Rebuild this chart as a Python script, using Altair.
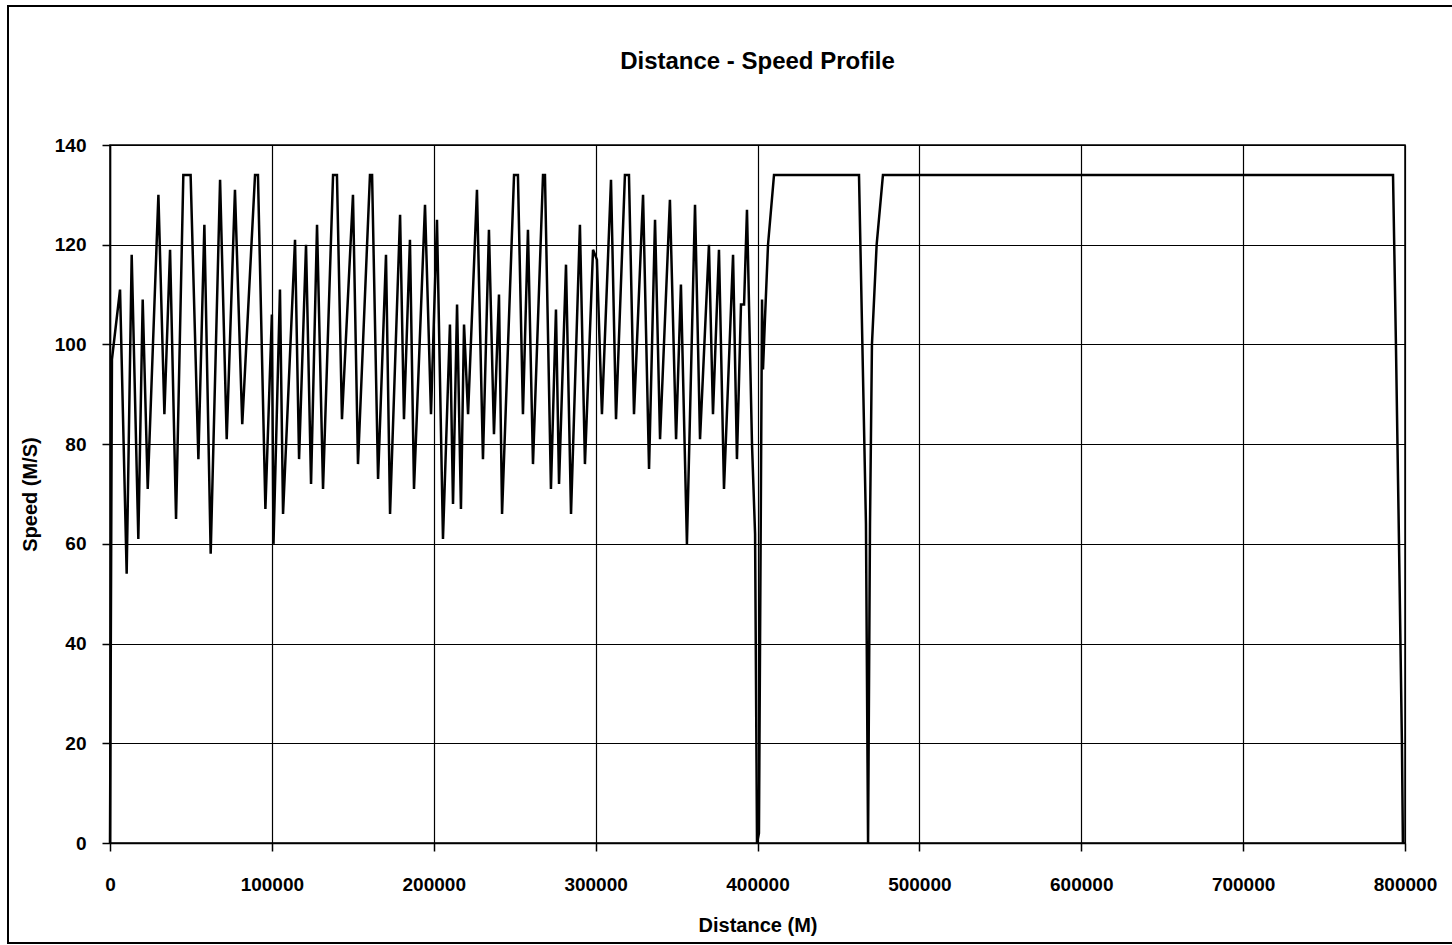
import altair as alt
import pandas as pd

distance = [0, 1200, 6200, 10300, 13400, 17500, 20200, 23300, 29900, 33600, 37100, 40800,
            45300, 49800, 54600, 58300, 62200, 68000, 72100, 77200, 81700, 89600, 91400,
            96000, 100000, 101000, 105000, 106900, 114300, 116800, 121100, 124200, 127900,
            131600, 137800, 140200, 143300, 150100, 153200, 160600, 161900, 165600, 170500,
            173000, 179200, 181600, 185300, 187800, 194600, 198300, 202000, 205700, 210000,
            211900, 214400, 216800, 218700, 221200, 226700, 230400, 234100, 237200, 240300,
            242200, 249600, 252000, 255100, 258200, 261300, 267500, 268700, 272400, 275500,
            277400, 281700, 284800, 290300, 293400, 298400, 300800, 303900, 309500, 312600,
            318100, 320600, 323700, 329300, 333000, 336700, 339800, 345900, 349700, 352700,
            356400, 361400, 364500, 370000, 372500, 376200, 379300, 384900, 387300, 389800,
            391700, 393500, 396600, 398500, 399700, 400900, 402800, 403400, 404600, 406500,
            410200, 462700, 467000, 468300, 469500, 470700, 473600, 477500, 792600, 794400,
            796300, 798100, 798700]
speed = [0, 97, 111, 54, 118, 61, 109, 71, 130, 86, 119, 65,
         134, 134, 77, 124, 58, 133, 81, 131, 84, 134, 134,
         67, 106, 60, 111, 66, 121, 77, 120, 72, 124,
         71, 134, 134, 85, 130, 76, 134, 134, 73, 118,
         66, 126, 85, 121, 71, 128, 86, 125, 61, 104,
         68, 108, 67, 104, 86, 131, 77, 123, 82, 110,
         66, 134, 134, 86, 123, 76, 134, 134, 71, 107,
         72, 116, 66, 124, 76, 119, 117, 86, 133, 85,
         134, 134, 86, 130, 75, 125, 81, 129, 81, 112,
         60, 128, 81, 120, 86, 119, 71, 118, 77, 108,
         108, 127, 80, 62, 0, 2, 109, 95, 105, 120,
         134, 134, 64, 0, 64, 100, 120, 134, 134, 100,
         60, 20, 0]

title_text = ["Distance - Speed Profile"]

df = pd.DataFrame({"distance": distance, "speed": speed, "idx": list(range(len(distance)))})

W, H = 1295, 698
FONT = "Liberation Sans"

line = alt.Chart(df).mark_line(color="black", strokeWidth=2.5).encode(
    x=alt.X("distance:Q", scale=alt.Scale(domain=[0, 800000], nice=False),
            axis=alt.Axis(values=[0, 100000, 200000, 300000, 400000, 500000, 600000, 700000, 800000],
                          format="d", title="Distance (M)", titleX=W / 2, titleY=82,
                          titleBaseline="middle", labelPadding=24)),
    y=alt.Y("speed:Q", scale=alt.Scale(domain=[0, 140], nice=False),
            axis=alt.Axis(values=[0, 20, 40, 60, 80, 100, 120, 140], title="Speed (M/S)",
                          titleX=-80, titleY=H / 2, titleBaseline="middle", titleAngle=-90,
                          titleAlign="center", labelPadding=16)),
    order="idx:Q",
)

frame = alt.Chart(pd.DataFrame({"a": [0]})).mark_rect(
    fill=None, stroke="black", strokeWidth=2
).encode(
    x=alt.value(-102), x2=alt.value(1400), y=alt.value(-139), y2=alt.value(798)
)

title = alt.Chart(pd.DataFrame({"t": title_text})).mark_text(
    font=FONT, fontSize=24, fontWeight="bold", color="black", align="center", baseline="middle"
).encode(
    text="t:N", x=alt.value(W / 2), y=alt.value(-83)
)

chart = alt.layer(frame, line, title).properties(
    width=W, height=H,
    autosize=alt.AutoSizeParams(type="none"),
    padding={"left": 110, "top": 145, "right": 47, "bottom": 102},
    background="white",
).configure_view(
    stroke="black", strokeWidth=1.5
).configure_axis(
    grid=True, gridColor="black", gridOpacity=1, gridWidth=1.2,
    domainColor="black", domainWidth=1.5,
    tickColor="black", tickSize=8, tickWidth=1.5,
    labelFont=FONT, labelFontSize=19, labelFontWeight="bold", labelColor="black",
    titleFont=FONT, titleFontSize=20, titleFontWeight="bold", titleColor="black",
    labelFlush=False,
)

chart.save("out.html", embed_options={"renderer": "svg", "actions": False})
